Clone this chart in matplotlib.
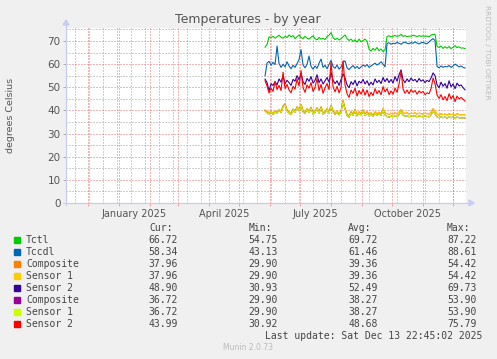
import matplotlib
matplotlib.use("Agg")
import matplotlib.pyplot as plt
from matplotlib.lines import Line2D
from matplotlib.patches import Polygon, Rectangle
import pandas as pd
from datetime import datetime, timedelta

# ---------------- data ----------------
data_start = "2025-05-27"
n_points = 101  # one value every 2 days

tctl = [67.3, 68.5, 71.8, 71.5, 72.0, 71.2, 71.8, 72.5, 71.6, 71.2,
        72.0, 71.5, 72.6, 71.8, 72.3, 71.0, 71.8, 72.6, 71.5, 71.0,
        72.0, 71.2, 70.8, 71.6, 72.2, 71.0, 70.5, 71.5, 70.8, 71.2,
        70.6, 71.8, 72.5, 73.6, 71.5, 70.6, 71.2, 70.4, 71.0, 71.8,
        72.6, 71.0, 70.2, 70.8, 69.8, 70.5, 69.5, 70.8, 69.6, 70.2,
        70.8, 69.8, 66.5, 65.6, 66.8, 66.0, 67.2, 65.8, 66.5, 65.4,
        66.2, 72.0, 72.2, 71.8, 72.0, 72.4, 72.0, 72.2, 72.8, 72.0,
        72.3, 71.9, 72.1, 72.0, 72.5, 72.2, 71.9, 72.3, 72.0, 72.2,
        72.0, 72.1, 71.8, 72.6, 72.8, 72.9, 67.6, 67.2, 67.8, 66.8,
        67.5, 66.9, 67.6, 66.7, 67.3, 68.0, 67.1, 67.5, 66.9, 67.0,
        66.7]

tccd1 = [55.0, 60.5, 61.2, 59.5, 60.8, 59.8, 67.8, 60.2, 58.6, 60.0,
         58.8, 61.0, 59.2, 58.0, 59.5, 58.6, 60.2, 62.0, 66.2, 59.6,
         58.4, 60.0, 63.5, 59.0, 57.8, 59.2, 58.2, 60.4, 62.2, 58.6,
         59.5, 58.0, 59.8, 61.6, 59.0, 58.2, 59.6, 57.8, 58.8, 60.8,
         61.4, 58.4, 57.6, 58.6, 59.4, 58.2, 59.0, 58.0, 58.8, 59.6,
         59.0, 59.8, 58.6, 59.2, 59.8, 60.4, 59.6, 60.2, 61.0, 60.0,
         58.8, 69.0, 69.2, 68.6, 69.0, 68.8, 69.4, 69.0, 68.6, 69.2,
         69.5, 69.0, 68.8, 69.3, 69.0, 69.6, 69.1, 68.7, 69.2, 69.4,
         69.0, 68.8, 69.6, 70.4, 71.0, 70.2, 59.0, 58.4, 59.2, 58.6,
         59.0, 58.8, 59.4, 58.6, 59.2, 60.0, 59.4, 58.8, 59.2, 58.6,
         58.3]

# NVMe 1: Composite and Sensor 1 report identical values
nvme1_composite = [40.2, 39.5, 39.0, 39.6, 38.8, 39.8, 39.2, 40.4, 39.6, 42.0,
                   43.0, 40.2, 39.4, 38.8, 40.6, 39.8, 41.6, 40.4, 42.6, 40.0,
                   39.2, 40.8, 39.6, 41.4, 39.0, 39.8, 41.2, 39.4, 41.6, 39.0,
                   39.6, 40.8, 39.4, 42.2, 40.0, 38.8, 39.8, 38.6, 40.0, 44.3,
                   41.0, 38.4, 37.6, 39.6, 38.4, 40.6, 38.2, 39.4, 38.6, 40.4,
                   38.4, 39.6, 38.2, 39.0, 38.0, 39.4, 38.4, 39.2, 38.6, 40.8,
                   39.0, 38.6, 38.2, 38.8, 38.4, 39.0, 38.4, 39.4, 40.4, 39.2,
                   38.6, 39.0, 38.4, 38.8, 38.6, 39.0, 38.4, 38.8, 38.6, 38.4,
                   38.8, 38.6, 38.4, 39.2, 40.8, 39.6, 38.4, 38.0, 38.6, 38.2,
                   38.4, 38.0, 38.6, 38.2, 38.4, 37.8, 38.6, 38.2, 38.0, 38.2,
                   38.0]
nvme1_sensor1 = list(nvme1_composite)

nvme1_sensor2 = [53.5, 52.0, 48.5, 51.5, 50.8, 52.4, 51.0, 53.6, 52.2, 54.8,
                 51.6, 53.0, 52.0, 50.8, 53.4, 52.6, 55.0, 53.2, 56.0, 52.4,
                 51.2, 53.8, 52.6, 54.6, 51.8, 53.0, 55.4, 52.0, 53.6, 51.4,
                 52.8, 54.2, 52.2, 56.5, 53.0, 51.6, 52.8, 50.8, 53.4, 55.8,
                 54.0, 51.0, 49.8, 52.4, 51.2, 53.0, 50.6, 52.6, 51.8, 53.4,
                 51.4, 52.8, 50.8, 52.2, 51.0, 53.6, 52.0, 53.0, 51.6, 54.2,
                 52.4, 53.8, 52.0, 53.4, 51.8, 54.6, 52.6, 55.4, 57.5, 53.2,
                 52.0, 53.6, 52.4, 54.0, 52.8, 53.4, 52.2, 53.8, 52.6, 53.2,
                 52.0, 53.0, 52.4, 54.0, 56.2, 55.0, 51.0, 49.8, 52.2, 50.4,
                 51.6, 49.6, 52.8, 50.2, 51.4, 49.4, 51.8, 50.6, 51.0, 49.8,
                 48.9]

# NVMe 2: Composite and Sensor 1 report identical values
nvme2_composite = [39.8, 39.0, 38.4, 39.2, 38.2, 39.4, 38.8, 40.0, 39.0, 41.6,
                   42.4, 39.8, 38.8, 38.2, 40.2, 39.2, 41.2, 39.8, 42.2, 39.4,
                   38.6, 40.4, 39.0, 41.0, 38.4, 39.2, 40.8, 38.8, 41.2, 38.4,
                   39.0, 40.4, 38.8, 41.8, 39.4, 38.2, 39.2, 38.0, 39.4, 43.8,
                   40.4, 37.8, 37.0, 39.0, 37.8, 40.0, 37.6, 38.8, 38.0, 39.8,
                   37.8, 39.0, 37.6, 38.4, 37.4, 38.8, 37.8, 38.6, 37.8, 40.0,
                   38.0, 37.4, 37.0, 37.6, 37.2, 37.8, 37.2, 38.2, 39.4, 38.0,
                   37.4, 37.8, 37.2, 37.6, 37.4, 37.8, 37.2, 37.6, 37.4, 37.2,
                   37.6, 37.4, 37.2, 38.0, 39.8, 38.4, 37.2, 36.8, 37.4, 36.8,
                   37.2, 36.6, 37.4, 36.8, 37.2, 36.4, 37.2, 36.8, 36.6, 36.8,
                   36.7]
nvme2_sensor1 = list(nvme2_composite)

nvme2_sensor2 = [52.8, 50.5, 47.5, 49.6, 48.2, 52.6, 49.0, 50.8, 48.6, 56.5,
                 49.4, 51.2, 48.8, 47.6, 50.4, 49.2, 53.6, 50.6, 57.2, 49.8,
                 47.8, 51.0, 49.6, 52.0, 48.2, 50.0, 53.8, 48.6, 51.2, 47.4,
                 49.8, 51.6, 49.0, 61.0, 50.2, 48.0, 50.4, 47.6, 49.8, 61.5,
                 51.0, 47.2, 45.6, 48.8, 47.4, 49.6, 46.2, 48.6, 47.0, 49.2,
                 46.6, 48.8, 46.0, 47.8, 46.4, 49.4, 47.2, 48.6, 46.8, 50.2,
                 48.0, 49.4, 46.8, 48.4, 47.0, 49.6, 47.8, 51.4, 57.0, 49.2,
                 47.4, 48.8, 47.2, 49.0, 47.8, 48.6, 47.0, 48.4, 47.6, 48.2,
                 46.8, 47.6, 47.2, 49.4, 54.0, 51.6, 46.6, 45.2, 46.8, 44.6,
                 46.0, 44.2, 47.2, 45.0, 46.4, 43.8, 46.2, 45.0, 45.6, 44.8,
                 44.0]

labels = ["Tctl", "Tccdl", "Composite", "Sensor 1", "Sensor 2",
          "Composite", "Sensor 1", "Sensor 2"]
colors = ["#00CC00", "#0066B3", "#FF8000", "#FFCC00", "#330099",
          "#990099", "#CCFF00", "#FF0000"]
series = [tctl, tccd1, nvme1_composite, nvme1_sensor1, nvme1_sensor2,
          nvme2_composite, nvme2_sensor1, nvme2_sensor2]
cur = ["66.72", "58.34", "37.96", "37.96", "48.90", "36.72", "36.72", "43.99"]
mins = ["54.75", "43.13", "29.90", "29.90", "30.93", "29.90", "29.90", "30.92"]
avgs = ["69.72", "61.46", "39.36", "39.36", "52.49", "38.27", "38.27", "48.68"]
maxs = ["87.22", "88.61", "54.42", "54.42", "69.73", "53.90", "53.90", "75.79"]

x_labels = ["January 2025", "April 2025", "July 2025", "October 2025"]
x_label_dates = ["2025-01-16", "2025-04-16", "2025-07-16", "2025-10-16"]
y_ticks = [0, 10, 20, 30, 40, 50, 60, 70]

# ---------------- figure ----------------
W, H = 497, 359
fig = plt.figure(figsize=(W / 100, H / 100), dpi=100, facecolor="#F0F0F0")


def fx(px):
    return px / W


def fy(py):
    return 1 - py / H


L, R, T, B = 66, 466, 28, 203
ax = fig.add_axes([fx(L), fy(B), (R - L) / W, (B - T) / H])
ax.set_facecolor("white")
end = datetime(2025, 12, 13, 22, 45, 2)
start = end - timedelta(days=400)
ax.set_xlim(start, end)
ax.set_ylim(0, 75.6)
for s in ax.spines.values():
    s.set_visible(False)

dot = (0, (1, 2))
minor_col = "#A0A0A0"
major_col = "#E87070"
gkw = dict(lw=0.72, ls=dot)

# minor vertical grid: every two weeks (Mondays)
d = datetime(2025, 12, 1)
while d > start:
    ax.axvline(d, color=minor_col, zorder=0, **gkw)
    d -= timedelta(days=14)
# minor horizontal grid
for v in range(5, 76, 10):
    ax.axhline(v, color=minor_col, zorder=0, **gkw)
# major grid
months = pd.date_range("2024-12-01", "2025-12-01", freq="MS")
for m in months:
    ax.axvline(m, color=major_col, zorder=1, **gkw)
for v in range(10, 71, 10):
    ax.axhline(v, color=major_col, zorder=1, **gkw)

dates = pd.date_range(data_start, periods=n_points, freq="2D")
for vals, c in zip(series, colors):
    ax.plot(dates, vals, color=c, lw=0.8, zorder=3, solid_joinstyle="round")

# ticks
ax.set_xticks(list(months))
ax.set_xticklabels([])
ax.tick_params(axis="x", which="major", length=2, color="#F0A0A0", width=0.7)
ax.set_xticks(pd.to_datetime(x_label_dates), x_labels, minor=True)
ax.tick_params(axis="x", which="minor", length=0, labelsize=7,
               labelcolor="#555555", pad=4)
ax.set_yticks(y_ticks)
ax.set_yticklabels([str(v) for v in y_ticks])
ax.tick_params(axis="y", length=2, color="#AAAAAA", width=0.7, labelsize=7.5,
               labelcolor="#555555", pad=2)

# axes with arrows
axis_col = "#C8CCF4"
fig.add_artist(Line2D([fx(64), fx(470)], [fy(B), fy(B)], color=axis_col,
                      lw=0.9, transform=fig.transFigure))
fig.add_artist(Line2D([fx(L), fx(L)], [fy(205), fy(25)], color=axis_col,
                      lw=0.9, transform=fig.transFigure))
fig.add_artist(Polygon([[fx(469), fy(B - 3)], [fx(474), fy(B)], [fx(469), fy(B + 3)]],
                       closed=True, color=axis_col, transform=fig.transFigure))
fig.add_artist(Polygon([[fx(L - 3), fy(25)], [fx(L), fy(20)], [fx(L + 3), fy(25)]],
                       closed=True, color=axis_col, transform=fig.transFigure))

# titles
fig.text(fx(248), fy(20), "Temperatures - by year", ha="center", va="center",
         fontsize=9, color="#555555")
fig.text(fx(11), fy(115), "degrees Celsius", rotation=90, ha="center",
         va="center", fontsize=6.8, color="#555555")
fig.text(fx(487), fy(5), "RRDTOOL / TOBI OETIKER", rotation=270, ha="center",
         va="top", fontsize=5.3, color="#BBBBBB")

# legend
mono = "DejaVu Sans Mono"
tc = "#444444"
fs = 7
hy = 227.7
for txt, x0 in zip(["Cur:", "Min:", "Avg:", "Max:"], [149, 249, 348, 447]):
    fig.text(fx(x0), fy(hy), txt, ha="left", va="center", family=mono,
             fontsize=fs, color=tc)
for k in range(len(labels)):
    yy = 239.7 + 12 * k
    fig.add_artist(Rectangle((fx(14), fy(yy + 3)), 6 / W, 6 / H, color=colors[k],
                             transform=fig.transFigure))
    fig.text(fx(26), fy(yy), labels[k], ha="left", va="center", family=mono,
             fontsize=fs, color=tc)
    for val, xr in zip([cur[k], mins[k], avgs[k], maxs[k]], [178, 278, 378, 477]):
        fig.text(fx(xr), fy(yy), val, ha="right", va="center", family=mono,
                 fontsize=fs, color=tc)
fig.text(fx(482), fy(335.7), "Last update: Sat Dec 13 22:45:02 2025", ha="right",
         va="center", family=mono, fontsize=fs, color=tc)
fig.text(fx(248), fy(348), "Munin 2.0.73", ha="center", va="center",
         fontsize=5.5, color="#BBBBBB")

fig.savefig("out.png", dpi=100, facecolor=fig.get_facecolor())
